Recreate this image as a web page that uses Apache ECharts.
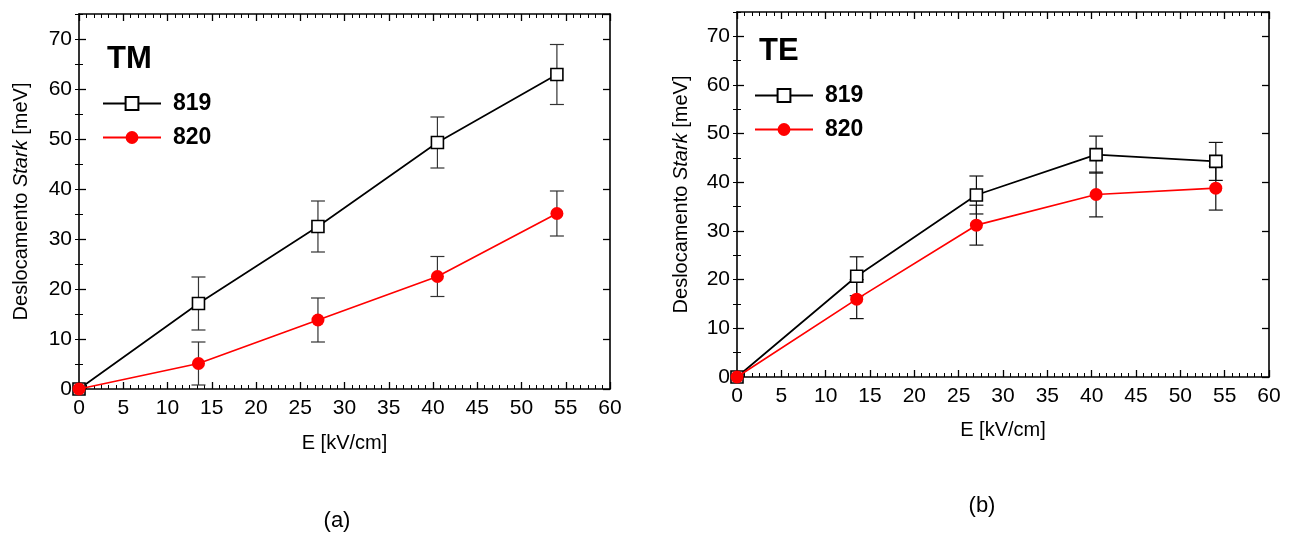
<!DOCTYPE html>
<html>
<head>
<meta charset="utf-8">
<title>Deslocamento Stark</title>
<script src="https://cdn.jsdelivr.net/npm/echarts@6/dist/echarts.min.js"></script>
<style>
  html, body { margin: 0; padding: 0; background: #fff; }
  #chart { width: 1294px; height: 537px; }
</style>
</head>
<body>
<div id="chart"></div>
<script>
// Electric field values (kV/cm)
const fieldE = [0, 13.5, 27, 40.5, 54];

// TM polarisation: Stark shift (meV) and error
const tm819 = [0, 17.1, 32.5, 49.3, 62.9];
const tm819Err = [0, 5.3, 5.1, 5.1, 6.0];
const tm820 = [0, 5.1, 13.8, 22.5, 35.1];
const tm820Err = [0, 4.3, 4.4, 4.0, 4.5];

// TE polarisation: Stark shift (meV) and error
const te819 = [0, 20.7, 37.4, 45.7, 44.3];
const te819Err = [0, 4.0, 3.9, 3.8, 3.9];
const te820 = [0, 16.0, 31.2, 37.5, 38.8];
const te820Err = [0, 4.0, 4.1, 4.6, 4.5];

const sampleNames = ['819', '820'];
const panelTitles = ['TM', 'TE'];
const panelTags = ['(a)', '(b)'];

const FONT = '"Liberation Sans", Arial, sans-serif';

function pairs(xs, ys) { return xs.map((x, i) => [x, ys[i]]); }
function triples(xs, ys, es) { return xs.map((x, i) => [x, ys[i], es[i]]); }

// Vertical error bar with caps, positioned through the cartesian scale
function errorBarItem(color) {
  return function (params, api) {
    const x = api.value(0), y = api.value(1), e = api.value(2);
    if (!e) return null;
    const hi = api.coord([x, y + e]);
    const lo = api.coord([x, y - e]);
    const half = 7;
    const style = { stroke: color, lineWidth: 1.2 };
    return {
      type: 'group',
      children: [
        { type: 'line', shape: { x1: hi[0], y1: hi[1], x2: lo[0], y2: lo[1] }, style },
        { type: 'line', shape: { x1: hi[0] - half, y1: hi[1], x2: hi[0] + half, y2: hi[1] }, style },
        { type: 'line', shape: { x1: lo[0] - half, y1: lo[1], x2: lo[0] + half, y2: lo[1] }, style }
      ]
    };
  };
}

const axisLineStyle = { color: '#000', width: 1.6 };

function xAxesFor(g, nameGap) {
  const base = {
    type: 'value', gridIndex: g, min: 0, max: 60, interval: 5,
    splitLine: { show: false },
    axisLine: { onZero: false, lineStyle: axisLineStyle },
    axisTick: { inside: true, length: 7, lineStyle: { color: '#000', width: 1.3 } },
    minorTick: { show: true, splitNumber: 6, length: 4, lineStyle: { color: '#000', width: 1 } }
  };
  return [
    Object.assign({}, base, {
      position: 'bottom',
      axisLabel: { color: '#000', fontSize: 21, fontFamily: FONT, margin: 9 },
      name: 'E [kV/cm]', nameLocation: 'middle', nameGap: nameGap,
      nameTextStyle: { color: '#000', fontSize: 20, fontFamily: FONT }
    }),
    Object.assign({}, base, { position: 'top', axisLabel: { show: false } })
  ];
}

function yAxesFor(g, nameGap) {
  const major = {
    type: 'value', gridIndex: g, min: 0, max: 75, interval: 10,
    splitLine: { show: false },
    axisLine: { onZero: false, lineStyle: axisLineStyle },
    axisTick: { inside: true, length: 7, lineStyle: { color: '#000', width: 1.3 } }
  };
  const minor = {
    type: 'value', gridIndex: g, min: 0, max: 75, interval: 5,
    splitLine: { show: false },
    axisLine: { show: false },
    axisLabel: { show: false },
    axisTick: { inside: true, length: 4, lineStyle: { color: '#000', width: 1 } }
  };
  return [
    Object.assign({}, major, {
      position: 'left',
      axisLabel: { color: '#000', fontSize: 21, fontFamily: FONT, margin: 7, showMaxLabel: false },
      name: '{a|Deslocamento }{b|Stark}{a| [meV]}',
      nameLocation: 'middle', nameGap: nameGap,
      nameTextStyle: {
        rich: {
          a: { color: '#000', fontSize: 20, fontFamily: FONT },
          b: { color: '#000', fontSize: 20, fontFamily: FONT, fontStyle: 'italic' }
        }
      }
    }),
    Object.assign({}, minor, { position: 'left' }),
    Object.assign({}, major, { position: 'right', axisLabel: { show: false } }),
    Object.assign({}, minor, { position: 'right' })
  ];
}

const squareStyle = {
  symbol: 'rect', symbolSize: 12,
  itemStyle: { color: '#fff', borderColor: '#000', borderWidth: 1.6 },
  lineStyle: { color: '#000', width: 1.7 }
};
const circleStyle = {
  symbol: 'circle', symbolSize: 13,
  itemStyle: { color: '#ff0000', borderWidth: 0 },
  lineStyle: { color: '#ff0000', width: 1.7 }
};

function panelSeries(g, ys819, es819, ys820, es820, barColor) {
  const xi = g * 2, yi = g * 4;
  return [
    { type: 'custom', name: 'err819', xAxisIndex: xi, yAxisIndex: yi, z: 1,
      renderItem: errorBarItem(barColor), data: triples(fieldE, ys819, es819), silent: true },
    { type: 'custom', name: 'err820', xAxisIndex: xi, yAxisIndex: yi, z: 1,
      renderItem: errorBarItem(barColor), data: triples(fieldE, ys820, es820), silent: true },
    Object.assign({ type: 'line', name: sampleNames[0], xAxisIndex: xi, yAxisIndex: yi, z: 2,
      data: pairs(fieldE, ys819), showAllSymbol: true }, squareStyle),
    Object.assign({ type: 'line', name: sampleNames[1], xAxisIndex: xi, yAxisIndex: yi, z: 3,
      data: pairs(fieldE, ys820), showAllSymbol: true }, circleStyle)
  ];
}

function legendFor(left, top) {
  return {
    left: left, top: top, orient: 'vertical', padding: 0,
    itemWidth: 58, itemHeight: 16, itemGap: 11,
    data: sampleNames,
    selectedMode: false,
    textStyle: { color: '#000', fontSize: 23, fontWeight: 'bold', fontFamily: FONT,
                 lineHeight: 23, padding: [0, 0, 0, 7] }
  };
}

function titleFor(text, left, top) {
  return {
    text: text, left: left, top: top, padding: 0,
    textStyle: { color: '#000', fontSize: 31, fontWeight: 'bold', fontFamily: FONT, lineHeight: 31 }
  };
}

const chart = echarts.init(document.getElementById('chart'), null, { renderer: 'canvas' });
chart.setOption({
  animation: false,
  backgroundColor: '#fff',
  title: [titleFor(panelTitles[0], 107, 44), titleFor(panelTitles[1], 759, 36)],
  legend: [legendFor(102, 92), legendFor(754, 84)],
  grid: [
    { left: 79, top: 14, width: 531, height: 375, outerBoundsMode: 'none' },
    { left: 737, top: 12, width: 532, height: 365, outerBoundsMode: 'none' }
  ],
  xAxis: xAxesFor(0, 44).concat(xAxesFor(1, 43)),
  yAxis: yAxesFor(0, 48).concat(yAxesFor(1, 46)),
  series: panelSeries(0, tm819, tm819Err, tm820, tm820Err, '#333')
    .concat(panelSeries(1, te819, te819Err, te820, te820Err, '#111')),
  graphic: [
    { type: 'text', x: 337, y: 521, style: { text: panelTags[0], fontSize: 22, fontFamily: FONT,
      fill: '#000', align: 'center', verticalAlign: 'middle' } },
    { type: 'text', x: 982, y: 506, style: { text: panelTags[1], fontSize: 22, fontFamily: FONT,
      fill: '#000', align: 'center', verticalAlign: 'middle' } }
  ]
});
</script>
</body>
</html>
